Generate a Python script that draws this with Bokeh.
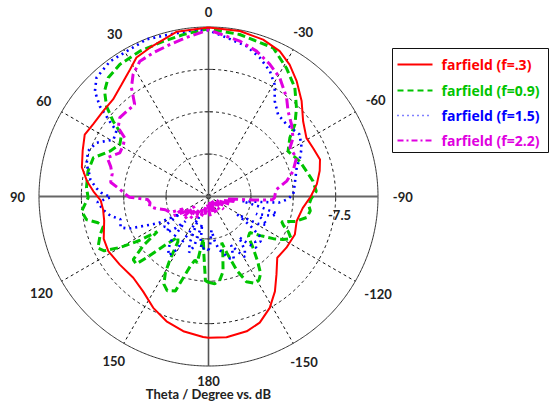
import numpy as np
from bokeh.plotting import figure
from bokeh.models import Range1d
from bokeh.core.properties import value
from bokeh.embed import file_html
from bokeh.resources import INLINE

# ---------------- data (theta in degrees, farfield level in dB) ----------------
red_theta = [-180, -172.7, -164.2, -157.9, -151.2, -145, -138.9, -131.7, -123.3, -113.8,
             -105.7, -97, -90, -83.5, -77, -71.6, -65.1, -59.1, -51.5, -44.3,
             -37.4, -31.6, -26.1, -19.2, -10.7, 0, 11, 21.5, 27.4, 31.8,
             37.8, 44.5, 51, 58, 63.4, 70, 77, 82.7, 87.4, 92,
             97, 103, 112, 118.6, 127.5, 137.2, 145.4, 153.6, 161.4, 169.4, 177.8, 180]
red_db = [-5.0, -4.9, -5.2, -5.9, -7.5, -9.5, -11.7, -13.7, -13.5, -13.3,
          -13.8, -13.2, -11.9, -10.7, -9.8, -9.2, -9.6, -9.8, -8.6, -6.4,
          -4.3, -2.6, -1.35, -0.6, -0.2, -0.1, -0.3, -1.7, -2.3, -3.6,
          -4.9, -5.9, -6.0, -5.9, -5.5, -6.3, -7.0, -8.3, -9.6, -10.9,
          -11.2, -11.05, -10.0, -9.8, -10.2, -10.4, -9.6, -8.0, -6.7, -5.75, -5.1, -5.0]

green_theta = [-180, -176, -172, -169, -166, -164, -162, -159, -156, -152,
               -149, -146, -143, -139, -135, -131, -127, -123, -120, -117,
               -114, -111, -109, -106, -102, -98, -95, -91, -87.2, -81.7,
               -75.5, -68.9, -60.4, -54.2, -50.2, -44.8, -38.4, -31.2, -23.5, -10.9,
               0, 8.9, 16.3, 25.3, 33.9, 40.2, 44.6, 48.5, 51.7, 54.5,
               59.6, 65.3, 71.4, 78.1, 85.9, 90.6, 96.6, 100.7, 103.4, 106,
               109.3, 115, 117.5, 120, 122.5, 124.5, 127, 130, 133, 135,
               139, 143, 146, 148.5, 150.5, 153, 156.3, 160.7, 162, 165.4,
               168, 170.3, 171.4, 173, 175.3, 177.9, 180]
green_db = [-14.8, -14.5, -15.2, -16.5, -19.5, -21.5, -19.5, -16, -13.5, -12.6,
            -12.7, -13.5, -15.5, -18, -20, -20.3, -18.5, -16.3, -14.8, -13.6,
            -14.5, -15.8, -16.3, -14.0, -12.2, -11.8, -12.2, -11.8, -10.9, -11.3,
            -12.1, -12.7, -13.8, -12.25, -10.1, -7.9, -5.4, -3.4, -1.3, -0.8,
            -0.3, -1.0, -1.4, -1.55, -1.85, -2.5, -3.8, -5.9, -8.5, -11.1,
            -11.8, -10.8, -8.5, -8.2, -8.35, -8.7, -7.4, -8.0, -9.9, -10.6,
            -9.7, -8.4, -9.2, -12.0, -15.5, -19, -15.5, -12.6, -12.5, -15,
            -19, -21, -20.3, -17, -14.5, -12.6, -11.8, -12.3, -14.1, -17.3,
            -18.5, -18.1, -20.6, -22.5, -19.9, -15.1, -14.8]

blue_theta = [-180, -178, -175, -172, -169, -165, -161, -158, -155, -152,
              -149, -146, -143, -140, -137, -134, -131, -128, -125, -122,
              -119, -116, -113, -110, -107, -104, -101, -98, -95, -92,
              -88.6, -82.1, -72, -67, -62.4, -55.8, -47.3, -40.4, -34.8, -30.6,
              -26.1, -20.3, -14.2, -6.5, 0, 4.1, 13.4, 21.5, 29.4, 36.1,
              43.3, 47.2, 50.3, 52.7, 54.6, 59.1, 64.4, 69.4, 75.3, 78.5,
              82, 86, 88, 90.4, 92.9, 97.6, 101.1, 104.5, 109.4, 112,
              114.4, 116, 118, 121, 124, 128, 131, 134, 137, 140,
              143, 146, 149, 152, 155, 158, 161, 164, 167, 170,
              173, 176, 180]
blue_db = [-20.5, -21.5, -24, -22, -20.5, -19.5, -18.4, -18, -20.5, -19,
           -17.5, -18.5, -21, -19, -17.6, -18.5, -17.8, -18.3, -21, -24,
           -20, -18.5, -19.5, -21, -18.2, -17.5, -21, -24, -17.5, -16,
           -15, -14.6, -13.6, -12.4, -11.4, -10.5, -11.2, -11.0, -9.45, -7.0,
           -5.3, -3.8, -2.55, -1.7, -0.6, -0.4, -0.5, -0.1, -0.5, -0.4,
           -1.1, -2.6, -5.0, -8.0, -10.0, -10.4, -8.0, -7.2, -7.7, -8.4,
           -8.9, -10.2, -11, -12.7, -10.3, -11.3, -12.3, -13.9, -13.5, -14.8,
           -17.4, -18.6, -20, -24, -20.5, -21, -20.3, -22, -24, -19.5,
           -18.2, -17.4, -19, -23, -26, -21, -19.5, -21, -25, -22,
           -20.5, -21, -20.5]

magenta_theta = [-180, -175, -170, -165, -160, -155, -150, -145, -140, -135,
                 -130, -125, -120, -115, -110, -105, -101, -97, -94.5, -93,
                 -91, -88, -84.1, -78.9, -73.4, -66.3, -59.1, -55.3, -49.1, -43,
                 -38.3, -31, -24.9, -18.3, -11.4, 0, 7.9, 14.3, 21, 26.9,
                 31.7, 35.3, 38.7, 43.9, 48.4, 52.7, 55, 59, 63.8, 69,
                 73, 77, 81.7, 86, 88.5, 90.5, 92.8, 96, 99.5, 103,
                 107, 112.8, 116, 119, 122.4, 126, 129, 132.6, 136, 140,
                 145, 150, 155, 160, 165, 170, 175, 180]
magenta_db = [-28, -26.5, -29, -27, -28.5, -26.5, -27.5, -29, -27, -28.5,
              -26.5, -28, -27, -28.5, -26, -27.5, -25, -26.5, -22, -18.7,
              -18.3, -18.2, -17.9, -15.9, -14.4, -13.0, -13.2, -11.8, -10.55, -9.35,
              -7.7, -5.5, -4.2, -2.9, -1.95, -0.5, -1.6, -2.25, -2.75, -3.15,
              -4.6, -6.4, -9.1, -9.1, -9.0, -9.9, -11.9, -12.4, -12.5, -10.8,
              -11.9, -12.5, -12.5, -14.5, -15.3, -16, -19.2, -19.6, -19.4, -20.5,
              -22, -22.7, -25, -23, -24.8, -27, -24.5, -24.1, -26.5, -25,
              -27, -25.5, -27.5, -26, -28, -26.5, -28.5, -28]

series_names = ["farfield (f=.3)", "farfield (f=0.9)", "farfield (f=1.5)", "farfield (f=2.2)"]
angle_ticks = [0, 30, 60, 90, 120, 150, 180, 210, 240, 270, 300, 330]
angle_labels = ["0", "30", "60", "90", "120", "150", "180", "-150", "-120", "-90", "-60", "-30"]
ring_levels = [-22.5, -15.0, -7.5]
radial_label = "-7.5"
axis_title = "Theta / Degree vs. dB"
db_min, db_max = -30.0, 0.0

# ---------------- styles / layout ----------------
colors = ["#ff0000", "#00c400", "#0000ff", "#e000e0"]
widths = [2, 3, 2.6, 3]
dashes = ["solid", "8 4", "2 4", "10 4 3 4"]

FIG_W, FIG_H = 551, 401
CX, CY = 208.0, 196.0          # pole position in picture (px)
R_PX = 169.5                   # outer ring radius (px)
S = R_PX / (db_max - db_min)   # px per dB unit
SPAN = db_max - db_min


def X(px):
    return (px - CX) / S


def Y(py):
    return (CY - py) / S


def polar(theta_deg, db):
    r = np.clip(np.asarray(db, dtype=float) - db_min, 0, None)
    t = np.radians(np.asarray(theta_deg, dtype=float))
    return -r * np.sin(t), r * np.cos(t)


p = figure(width=FIG_W, height=FIG_H, output_backend="svg", toolbar_location=None,
           x_axis_location=None, y_axis_location=None, min_border=0,
           x_range=Range1d(X(0), X(FIG_W)), y_range=Range1d(Y(FIG_H), Y(0)))
p.outline_line_color = None
p.xgrid.visible = False
p.ygrid.visible = False
p.background_fill_color = "white"

# ---- polar grid ----
full = np.linspace(0, 360, 721)
for lev in ring_levels:
    gx, gy = polar(full, np.full_like(full, lev))
    p.line(gx, gy, line_color="#111111", line_width=1, line_dash="3 3")
ox, oy = polar(full, np.full_like(full, db_max))
p.line(ox, oy, line_color="#333333", line_width=1)

spoke_x, spoke_y = [], []
for a in angle_ticks:
    if a % 90 != 0:
        ex, ey = polar([a], [db_max])
        spoke_x.append([0, ex[0]])
        spoke_y.append([0, ey[0]])
p.multi_line(spoke_x, spoke_y, line_color="#111111", line_width=1, line_dash="3 3")

# main axes
p.line([0, 0], [-SPAN, SPAN], line_color="#555555", line_width=1.6)
p.line([-SPAN, SPAN], [0, 0], line_color="#666666", line_width=2)

# small ticks on axes at ring crossings
tk = 0.7
txs, tys = [], []
for lev in ring_levels:
    r = lev - db_min
    for sgn in (-1, 1):
        txs.append([sgn * r, sgn * r]); tys.append([-tk, tk])
        txs.append([-tk, tk]); tys.append([sgn * r, sgn * r])
p.multi_line(txs, tys, line_color="#444444", line_width=1)

# ---- curves ----
thetas = [green_theta, blue_theta, magenta_theta, red_theta]
dbs = [green_db, blue_db, magenta_db, red_db]
order = [1, 2, 3, 0]
for k, th, dbv in zip(order, thetas, dbs):
    cx_, cy_ = polar(th, dbv)
    p.line(cx_, cy_, line_color=colors[k], line_width=widths[k], line_dash=dashes[k])

# ---- angle labels ----
lx, ly = [], []
for a, lab in zip(angle_ticks, angle_labels):
    w = 6.5 * len(lab)
    rr = R_PX + 15 + abs(np.sin(np.radians(a))) * w / 2
    lx.append(-rr * np.sin(np.radians(a)) / S)
    ly.append(rr * np.cos(np.radians(a)) / S)
p.text(lx, ly, text=angle_labels, text_font=value("Lato"), text_font_size="13px",
       text_font_style="bold", text_color="#222222", text_align="center", text_baseline="middle")

p.text([X(339)], [Y(214)], text=[radial_label], text_font=value("Lato"), text_font_size="13px",
       text_font_style="bold", text_color="#222222", text_align="center", text_baseline="middle")

p.text([X(208)], [Y(393)], text=[axis_title], text_font=value("Lato"), text_font_size="13px",
       text_font_style="bold", text_color="#222222", text_align="center", text_baseline="middle")

# ---- legend ----
p.quad(left=[X(392)], right=[X(548)], top=[Y(48)], bottom=[Y(152)],
       fill_color="white", line_color="#111111", line_width=1)
leg_y = [64, 90, 115, 140]
leg_w = [2, 2, 1.5, 2]
leg_dash = ["solid", "6 4", "1 4", "6 3 2 3"]
for k in range(4):
    p.line([X(397), X(432)], [Y(leg_y[k]), Y(leg_y[k])], line_color=colors[k],
           line_width=leg_w[k], line_dash=leg_dash[k])
p.text([X(441)] * 4, [Y(v) for v in leg_y], text=series_names, text_color=colors,
       text_font=value("Open Sans"), text_font_size="14px", text_font_style="bold",
       text_align="left", text_baseline="middle")

open("out.html", "w").write(file_html(p, INLINE))
